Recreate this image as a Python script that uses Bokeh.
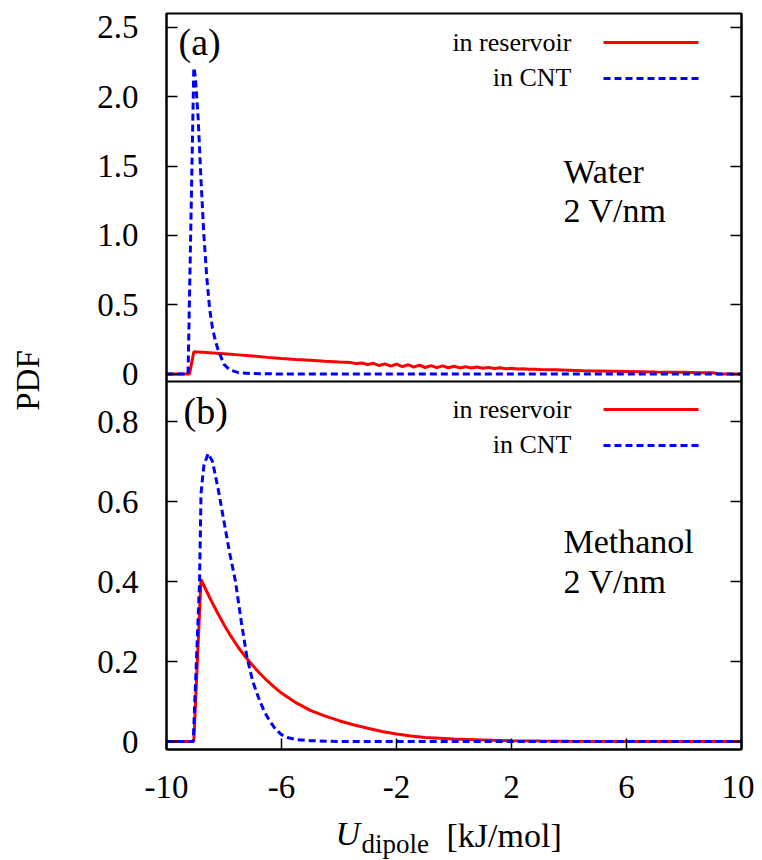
from math import pi
from bokeh.plotting import figure
from bokeh.models import Range1d, LinearAxis, FixedTicker, Label, PolyAnnotation, Span
from bokeh.layouts import row, column
from bokeh.embed import file_html
from bokeh.resources import INLINE

# ---------------- data ----------------
# (a) Water, 2 V/nm : in CNT (blue dashed)
water_cnt_x = [-10, -9.25, -9.05, -9.0, -8.9, -8.8, -8.7, -8.6, -8.5, -8.4, -8.3,
               -8.2, -8.0, -7.8, -7.5, -7.0, -6.0, -4.0, 0.0, 4.0, 8.0, 10]
water_cnt_y = [0, 0, 2.21, 2.15, 1.85, 1.4, 1.0, 0.7, 0.47, 0.33, 0.24,
               0.17, 0.07, 0.03, 0.01, 0.003, 0, 0, 0, 0, 0, 0]

# (a) Water, 2 V/nm : in reservoir (red solid)
water_res_x = [-10, -9.2, -9.05, -8.5, -8, -7.5, -7, -6.5, -6, -5.5, -5, -4.5, -4,
               -3.6, -3.4, -3.2, -3.0, -2.8, -2.6, -2.4, -2.2, -2.0, -1.8, -1.6,
               -1.4, -1.2, -1.0, -0.8, -0.6, -0.4, -0.2, 0.0, 0.2, 0.4, 0.6, 0.8,
               1.0, 1.2, 1.4, 1.6, 1.8, 2.0, 2.2, 2.4, 2.6, 2.8, 3.0, 3.5, 4.0,
               4.5, 5.0, 5.5, 6.0, 6.5, 7.0, 7.5, 8.0, 8.5, 9.0, 9.2, 10]
water_res_y = [0, 0, 0.160, 0.153, 0.146, 0.138, 0.130, 0.120, 0.112, 0.105, 0.099, 0.092, 0.086,
               0.083, 0.075, 0.079, 0.068, 0.077, 0.061, 0.073, 0.057, 0.071, 0.053, 0.067,
               0.050, 0.064, 0.047, 0.061, 0.046, 0.059, 0.045, 0.056, 0.044, 0.053, 0.043, 0.050,
               0.041, 0.048, 0.040, 0.045, 0.038, 0.041, 0.036, 0.038, 0.034, 0.035, 0.032, 0.030, 0.027,
               0.024, 0.022, 0.020, 0.018, 0.016, 0.014, 0.013, 0.012, 0.010, 0.009, 0.0, 0.0]

# (b) Methanol, 2 V/nm : in CNT (blue dashed)
meth_cnt_x = [-10, -9.07, -8.85, -8.8, -8.7, -8.55, -8.4, -8.2, -8.0, -7.8, -7.6, -7.4,
              -7.2, -7.0, -6.8, -6.6, -6.4, -6.2, -6.0, -5.8, -5.5, -5.0, -4.0, 0.0, 4.0, 8.0, 10]
meth_cnt_y = [0, 0, 0.40, 0.62, 0.69, 0.72, 0.70, 0.63, 0.55, 0.47, 0.40, 0.30,
              0.21, 0.15, 0.11, 0.075, 0.05, 0.03, 0.017, 0.01, 0.005, 0.002, 0, 0, 0, 0, 0]

# (b) Methanol, 2 V/nm : in reservoir (red solid)
meth_res_x = [-10, -9.05, -8.8, -8.5, -8.25, -8.0, -7.75, -7.5, -7.25, -7.0, -6.75, -6.5,
              -6.25, -6.0, -5.5, -5.0, -4.5, -4.0, -3.5, -3.0, -2.5, -2.0, -1.5, -1.0,
              -0.5, 0.0, 1.0, 2.0, 3.0, 4.0, 6.0, 10]
meth_res_y = [0, 0, 0.405, 0.36, 0.325, 0.292, 0.262, 0.235, 0.211, 0.19, 0.17, 0.152,
              0.136, 0.121, 0.097, 0.078, 0.064, 0.052, 0.042, 0.033, 0.025, 0.019, 0.014, 0.010,
              0.008, 0.006, 0.004, 0.002, 0.001, 0.0005, 0, 0]

x_ticks = [-10, -6, -2, 2, 6, 10]
x_tick_labels = ["-10", "-6", "-2", "2", "6", "10"]
top_ticks = [0, 0.5, 1.0, 1.5, 2.0, 2.5]
top_tick_labels = ["0", "0.5", "1.0", "1.5", "2.0", "2.5"]
bot_ticks = [0, 0.2, 0.4, 0.6, 0.8]
bot_tick_labels = ["0", "0.2", "0.4", "0.6", "0.8"]

TOP_RANGE = (-0.054, 2.6)   # panel (a) y-range
BOT_RANGE = (-0.02, 0.9)    # panel (b) y-range

FONT = "Liberation Serif"
RED = "#ff0000"
BLUE = "#0000ff"

# page geometry (pixels)
LEFT_W = 60          # strip holding the y title
TOTAL_H = 859
MAIN_H = 811         # main plot height (frame 13..749)
FRAME_LEFT = 166
FRAME_BOTTOM = 749

# ---------------- one frame holding both stacked panels ----------------
top_span = TOP_RANGE[1] - TOP_RANGE[0]
bot_span = BOT_RANGE[1] - BOT_RANGE[0]
main_range = Range1d(BOT_RANGE[0], BOT_RANGE[1] + bot_span)   # lower half = panel (b)
top_range = Range1d(TOP_RANGE[0] - top_span, TOP_RANGE[1])    # upper half = panel (a)


def to_main(t):
    return round(BOT_RANGE[1] + (t - TOP_RANGE[0]) * bot_span / top_span, 9)


y_tick_pos = [round(t, 9) for t in bot_ticks] + [to_main(t) for t in top_ticks]
y_tick_lab = bot_tick_labels + top_tick_labels
overrides = {pos: lab for pos, lab in zip(y_tick_pos, y_tick_lab)}

p = figure(width=754 - LEFT_W, height=MAIN_H, x_range=Range1d(-10, 10), y_range=main_range,
           output_backend="svg", toolbar_location=None,
           min_border_left=FRAME_LEFT - LEFT_W, min_border_right=13, min_border_top=13,
           min_border_bottom=MAIN_H - FRAME_BOTTOM)
p.extra_y_ranges = {"top": top_range}
p.grid.visible = False
p.outline_line_color = "black"
p.outline_line_width = 2
p.background_fill_color = "white"
p.border_fill_color = "white"

yl = p.yaxis[0]
yl.ticker = FixedTicker(ticks=y_tick_pos)
yl.major_label_overrides = overrides
yl.minor_tick_line_color = None
yl.major_tick_in = 11
yl.major_tick_out = 0
yl.major_tick_line_width = 1.5
yl.major_tick_line_color = "black"
yl.axis_line_width = 2
yl.axis_line_color = "black"
yl.major_label_text_font = FONT
yl.major_label_text_font_size = "33px"
yl.major_label_text_color = "black"
yl.major_label_standoff = 28

ra = LinearAxis(ticker=FixedTicker(ticks=y_tick_pos), minor_tick_line_color=None,
                major_tick_in=11, major_tick_out=0, major_tick_line_width=1.5,
                axis_line_width=2, axis_line_color="black",
                major_label_text_color=None, major_label_standoff=0,
                major_label_text_font_size="0px")
p.add_layout(ra, "right")

xa = p.xaxis[0]
xa.ticker = FixedTicker(ticks=x_ticks)
xa.major_label_overrides = {t: l for t, l in zip(x_ticks, x_tick_labels)}
xa.minor_tick_line_color = None
xa.major_tick_in = 11
xa.major_tick_out = 0
xa.major_tick_line_width = 1.5
xa.axis_line_width = 2
xa.axis_line_color = "black"
xa.major_label_text_font = FONT
xa.major_label_text_font_size = "33px"
xa.major_label_text_color = "black"
xa.major_label_standoff = 26

# separator between the two panels
p.add_layout(Span(location=BOT_RANGE[1], dimension="width", line_color="black", line_width=2))

# curves
p.line(water_res_x, water_res_y, line_color=RED, line_width=3, y_range_name="top")
p.line(water_cnt_x, water_cnt_y, line_color=BLUE, line_width=3, line_dash="7 4",
       y_range_name="top")
p.line(meth_res_x, meth_res_y, line_color=RED, line_width=3)
p.line(meth_cnt_x, meth_cnt_y, line_color=BLUE, line_width=3, line_dash="7 4")


# ---------------- texts (screen units, relative to a frame's bottom-left) ----------------
def txt(fig, text, px, py, size, left, bottom, align="left", style="normal", angle=0.0):
    fig.add_layout(Label(x=px - left, y=bottom - py, x_units="screen", y_units="screen",
                         text=text, text_font=FONT, text_font_size=size, text_font_style=style,
                         text_align=align, text_baseline="middle", text_color="black",
                         angle=angle))


def mtxt(text, px, py, size, align="left"):
    txt(p, text, px, py, size, FRAME_LEFT, FRAME_BOTTOM, align=align)


def key_line(px0, px1, py, color, dash="solid"):
    p.add_layout(PolyAnnotation(xs=[px0 - FRAME_LEFT, px1 - FRAME_LEFT],
                                ys=[FRAME_BOTTOM - py, FRAME_BOTTOM - py],
                                xs_units="screen", ys_units="screen",
                                line_color=color, line_alpha=1.0, line_width=3, line_dash=dash,
                                fill_color=None, fill_alpha=0))


# panel (a)
mtxt("(a)", 178, 41, "38px")
mtxt("in reservoir", 571, 42, "26px", align="right")
mtxt("in CNT", 571, 77, "26px", align="right")
key_line(603, 698, 42, RED)
key_line(603, 698, 78, BLUE, "7 4")
mtxt("Water", 563, 171, "34px")
mtxt("2 V/nm", 563, 210, "34px")

# panel (b)
mtxt("(b)", 183, 410, "38px")
mtxt("in reservoir", 571, 409, "26px", align="right")
mtxt("in CNT", 571, 444, "26px", align="right")
key_line(603, 698, 409, RED)
key_line(603, 698, 445, BLUE, "7 4")
mtxt("Methanol", 563, 541, "34px")
mtxt("2 V/nm", 563, 581, "34px")


def blank(w, h):
    f = figure(width=w, height=h, x_range=Range1d(0, 1), y_range=Range1d(0, 1),
               output_backend="svg", toolbar_location=None,
               x_axis_location=None, y_axis_location=None, min_border=0)
    f.grid.visible = False
    f.outline_line_color = None
    f.background_fill_color = "white"
    f.border_fill_color = "white"
    return f


# y title strip (page x 0..LEFT_W, y 0..TOTAL_H)
pl = blank(LEFT_W, TOTAL_H)
txt(pl, "PDF", 27, 380, "33px", 0, TOTAL_H, align="center", angle=pi / 2)

# x title strip (below the main plot; its frame is aligned with the main frame's left edge)
px_ = blank(754 - LEFT_W, TOTAL_H - MAIN_H)
txt(px_, "U", 335, 833, "34px", FRAME_LEFT, TOTAL_H, style="italic")
txt(px_, "dipole", 361, 843, "27px", FRAME_LEFT, TOTAL_H)
txt(px_, "[kJ/mol]", 446, 835, "34px", FRAME_LEFT, TOTAL_H)

layout = row(pl, column(p, px_, spacing=0), spacing=0)
open("out.html", "w").write(file_html(layout, INLINE))
